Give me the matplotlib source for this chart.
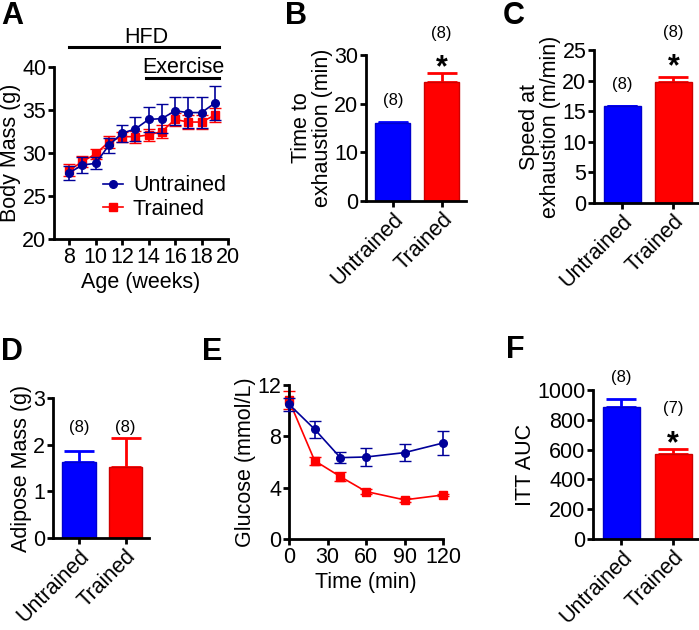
import numpy as np
import matplotlib
matplotlib.use("Agg")
import matplotlib.pyplot as plt

plt.rcParams['font.family'] = ['Liberation Sans', 'DejaVu Sans']
plt.rcParams['axes.linewidth'] = 2.0
plt.rcParams['xtick.major.width'] = 2.0
plt.rcParams['ytick.major.width'] = 2.0
plt.rcParams['xtick.major.size'] = 4.5
plt.rcParams['ytick.major.size'] = 4.5
plt.rcParams['xtick.labelsize'] = 15.5
plt.rcParams['ytick.labelsize'] = 15.5

FS = 15.5
BLUE = '#0000FF'
RED = '#FF0000'
NAVY = '#000099'

# ---- data ----
groups = ['Untrained', 'Trained']

# A: body mass
weeks = [8, 9, 10, 11, 12, 13, 14, 15, 16, 17, 18, 19]
mass_untr = [27.7, 28.6, 28.8, 30.9, 32.3, 32.8, 33.9, 34.0, 34.9, 34.7, 34.7, 35.8]
mass_untr_err = [0.8, 0.9, 0.7, 0.9, 1.0, 1.4, 1.5, 1.7, 1.6, 1.8, 1.8, 2.0]
mass_tr = [28.0, 29.0, 29.9, 31.3, 31.9, 31.9, 32.1, 32.5, 33.9, 33.6, 33.6, 34.4]
mass_tr_err = [0.7, 0.6, 0.6, 0.7, 0.6, 0.7, 0.7, 0.7, 0.8, 0.8, 0.8, 0.8]

# B: time to exhaustion
time_exh = [16.1, 24.5]
time_exh_err = [0.2, 1.7]

# C: speed at exhaustion
speed_exh = [15.8, 19.8]
speed_exh_err = [0.1, 0.85]

# D: adipose mass
adipose = [1.63, 1.52]
adipose_err = [0.24, 0.63]

# E: ITT glucose
itt_time = [0, 20, 40, 60, 90, 120]
gluc_untr = [10.5, 8.55, 6.34, 6.39, 6.73, 7.48]
gluc_untr_err = [0.5, 0.65, 0.45, 0.67, 0.65, 0.9]
gluc_tr = [10.8, 6.1, 4.86, 3.7, 3.05, 3.43]
gluc_tr_err = [0.7, 0.3, 0.35, 0.22, 0.15, 0.1]

# F: ITT AUC
auc = [884, 571]
auc_err = [58, 32]

W, H = 699, 630
fig = plt.figure(figsize=(W / 100, H / 100), dpi=100)


def px_axes(left, top, right, bottom):
    return fig.add_axes([left / W, 1 - bottom / H, (right - left) / W, (bottom - top) / H])


def style(ax):
    ax.spines['top'].set_visible(False)
    ax.spines['right'].set_visible(False)
    ax.tick_params(direction='out', pad=1)


def bar_panel(ax, vals, errs, ylim, yticks, ylabel):
    style(ax)
    x = np.arange(len(vals))
    ax.bar(x, vals, width=0.72, color=[BLUE, RED], edgecolor=['#0000CC', '#CC0000'], linewidth=1, zorder=2)
    for xi, v, e, c in zip(x, vals, errs, [BLUE, RED]):
        ax.errorbar(xi, v, yerr=[[0], [e]], color=c, capsize=11, capthick=2, elinewidth=2, zorder=1)
    ax.set_xlim(-0.55, 1.5)
    ax.set_ylim(*ylim)
    ax.set_yticks(yticks)
    ax.set_xticks(x)
    ax.set_xticklabels(groups, rotation=45, ha='right', rotation_mode='anchor', fontsize=FS)
    ax.set_ylabel(ylabel, fontsize=FS, labelpad=1, linespacing=1.0)


def note(ax, x, y, s):
    ax.text(x, y, s, ha='center', va='center', fontsize=12, clip_on=False)


def star(ax, x, y):
    ax.text(x, y, '*', ha='center', va='baseline', fontsize=22, fontweight='bold', clip_on=False)


# ---- A ----
axA = px_axes(54, 67, 228, 239)
style(axA)
axA.errorbar(weeks, mass_untr, yerr=mass_untr_err, color=NAVY, marker='o', ms=5.5, lw=1.2,
             capsize=4, elinewidth=1.2, label='Untrained', zorder=3)
axA.errorbar(weeks, mass_tr, yerr=mass_tr_err, color=RED, marker='s', ms=5.5, lw=1.2,
             capsize=4, elinewidth=1.2, label='Trained', zorder=2)
axA.set_xlim(6.85, 20)
axA.set_ylim(20, 40)
axA.set_xticks([8, 10, 12, 14, 16, 18, 20])
axA.set_yticks([20, 25, 30, 35, 40])
axA.set_xlabel('Age (weeks)', fontsize=FS, labelpad=3)
axA.set_ylabel('Body Mass (g)', fontsize=FS, labelpad=1)
h, l = axA.get_legend_handles_labels()
h = [hh[0] for hh in h]
axA.legend(h, l, loc='lower right', bbox_to_anchor=(1.05, 0.05), frameon=False, fontsize=FS,
           handlelength=0.95, handletextpad=0.45, borderpad=0, labelspacing=0.1)
axA.plot([8, 19.3], [42.3, 42.3], color='black', lw=2.2, clip_on=False)
axA.text(13.8, 42.8, 'HFD', ha='center', va='baseline', fontsize=FS)
axA.plot([13.8, 19.3], [38.7, 38.7], color='black', lw=2.2, clip_on=False)
axA.text(16.65, 39.3, 'Exercise', ha='center', va='baseline', fontsize=FS)

# ---- B ----
axB = px_axes(366, 55, 466, 201)
bar_panel(axB, time_exh, time_exh_err, (0, 30), [0, 10, 20, 30], 'Time to\nexhaustion (min)')
note(axB, 0, 20.7, '(8)')
note(axB, 1, 34.5, '(8)')
star(axB, 1, 25.6)

# ---- C ----
axC = px_axes(594, 50, 699, 203)
bar_panel(axC, speed_exh, speed_exh_err, (0, 25), [0, 5, 10, 15, 20, 25], 'Speed at\nexhaustion (m/min)')
note(axC, 0, 19.3, '(8)')
note(axC, 1, 27.8, '(8)')
star(axC, 1, 20.8)

# ---- D ----
axD = px_axes(53, 398, 149, 538)
bar_panel(axD, adipose, adipose_err, (0, 3), [0, 1, 2, 3], 'Adipose Mass (g)')
note(axD, 0, 2.36, '(8)')
note(axD, 1, 2.36, '(8)')

# ---- E ----
axE = px_axes(289, 385, 443, 539)
style(axE)
axE.errorbar(itt_time, gluc_untr, yerr=gluc_untr_err, color=NAVY, marker='o', ms=5.5, lw=1.2,
             capsize=4, elinewidth=1.2, zorder=3, clip_on=False)
axE.errorbar(itt_time, gluc_tr, yerr=gluc_tr_err, color=RED, marker='s', ms=5.5, lw=1.2,
             capsize=4, elinewidth=1.2, zorder=2, clip_on=False)
axE.set_xlim(0, 120)
axE.set_ylim(0, 12)
axE.set_xticks([0, 30, 60, 90, 120])
axE.set_yticks([0, 4, 8, 12])
axE.set_xlabel('Time (min)', fontsize=FS, labelpad=3)
axE.set_ylabel('Glucose (mmol/L)', fontsize=FS, labelpad=1)

# ---- F ----
axF = px_axes(593, 390, 699, 539)
bar_panel(axF, auc, auc_err, (0, 1000), [0, 200, 400, 600, 800, 1000], 'ITT AUC')
note(axF, 0, 1087, '(8)')
note(axF, 1, 879, '(7)')
star(axF, 1, 580)

# panel letters
for lab, xp, yp in [('A', 1, 1), ('B', 285, 1), ('C', 503, 1), ('D', 1, 337), ('E', 202, 337), ('F', 506, 335)]:
    fig.text(xp / W, 1 - yp / H, lab, fontsize=22, fontweight='bold', ha='left', va='top')

fig.savefig('out.png', dpi=100)
